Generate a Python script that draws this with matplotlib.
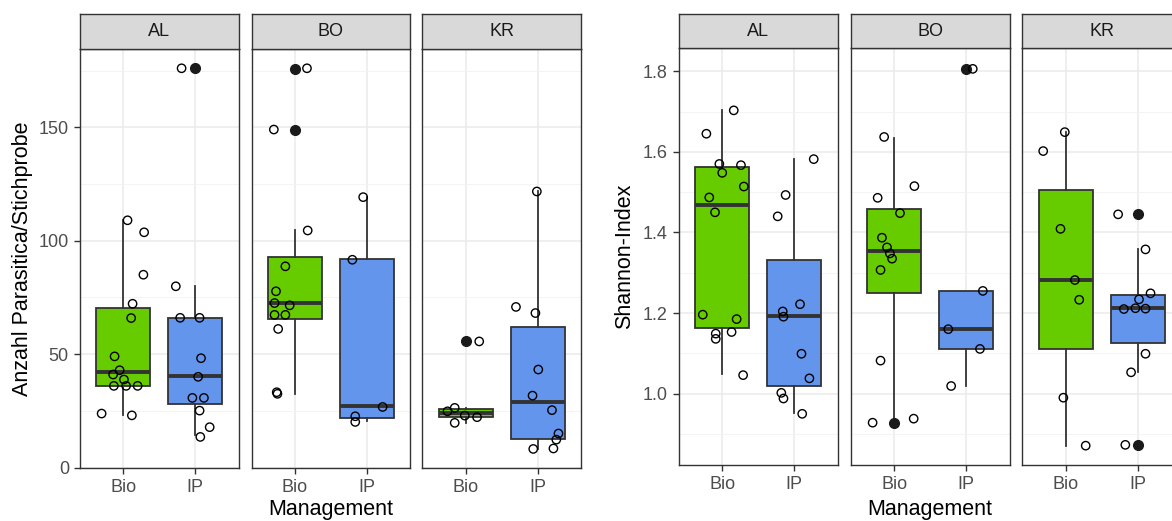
import numpy as np
import matplotlib
matplotlib.use("Agg")
import matplotlib.pyplot as plt

plt.rcParams['font.family'] = ['Liberation Sans', 'DejaVu Sans']

sites = ["AL", "BO", "KR"]
groups = ["Bio", "IP"]
box_colors = ["#66CC00", "#6495ED"]

# --- Anzahl Parasitica / Stichprobe: box stats (AL Bio, AL IP, BO Bio, BO IP, KR Bio, KR IP)
para_med = [42.2, 40.2, 72.5, 27.0, 24.1, 28.8]
para_q1 = [35.8, 28.0, 65.5, 21.9, 22.3, 12.8]
para_q3 = [70.3, 66.0, 92.8, 91.9, 25.6, 62.0]
para_lo = [23.3, 14.5, 32.5, 20.4, 19.7, 8.2]
para_hi = [109.0, 79.9, 104.8, 119.2, 26.3, 121.7]
para_out = [[], [176.0], [175.8, 148.9], [], [55.6], []]

# raw points with jitter offsets
para_al_bio = [23.8, 23.0, 36.0, 36.0, 36.0, 41.0, 42.9, 38.8, 49.0, 65.9, 72.2, 85.0, 103.7, 109.0]
para_al_bio_dx = [-0.30, 0.12, -0.13, 0.04, 0.20, -0.14, -0.05, 0.01, -0.12, 0.11, 0.13, 0.28, 0.29, 0.06]
para_al_ip = [176.0, 79.9, 66.0, 66.0, 48.2, 40.0, 30.7, 30.7, 25.1, 17.8, 13.5]
para_al_ip_dx = [-0.19, -0.27, -0.21, 0.06, 0.08, 0.04, -0.04, 0.12, 0.06, 0.20, 0.07]
para_bo_bio = [176.0, 149.0, 104.5, 88.7, 77.7, 72.5, 71.5, 67.3, 67.3, 61.1, 33.2, 32.5]
para_bo_bio_dx = [0.17, -0.29, 0.18, -0.13, -0.26, -0.28, -0.07, -0.28, -0.13, -0.23, -0.25, -0.24]
para_bo_ip = [119.2, 91.6, 26.7, 22.6, 20.1]
para_bo_ip_dx = [-0.05, -0.20, 0.22, -0.16, -0.16]
para_kr_bio = [55.6, 26.3, 24.8, 22.9, 22.2, 19.7]
para_kr_bio_dx = [0.19, -0.15, -0.25, -0.01, 0.16, -0.15]
para_kr_ip = [121.7, 70.8, 68.1, 43.2, 31.7, 25.3, 15.0, 12.3, 8.4, 8.2]
para_kr_ip_dx = [-0.01, -0.30, -0.03, 0.01, -0.07, 0.20, 0.29, 0.26, 0.22, -0.06]

# --- Shannon-Index
shan_med = [1.469, 1.193, 1.354, 1.160, 1.282, 1.212]
shan_q1 = [1.162, 1.020, 1.251, 1.111, 1.112, 1.126]
shan_q3 = [1.563, 1.331, 1.457, 1.255, 1.506, 1.245]
shan_lo = [1.048, 0.951, 0.930, 1.019, 0.871, 1.054]
shan_hi = [1.703, 1.582, 1.635, 1.255, 1.649, 1.358]
shan_out = [[], [], [0.926], [1.806], [], [1.445, 0.873]]

shan_al_bio = [1.645, 1.703, 1.570, 1.567, 1.548, 1.514, 1.487, 1.450, 1.196, 1.185, 1.149, 1.136, 1.153, 1.046]
shan_al_bio_dx = [-0.22, 0.16, -0.04, 0.26, 0.00, 0.30, -0.18, -0.10, -0.27, 0.20, -0.09, -0.09, 0.13, 0.29]
shan_al_ip = [1.582, 1.493, 1.440, 1.222, 1.204, 1.191, 1.099, 1.038, 1.002, 0.988, 0.950]
shan_al_ip_dx = [0.27, -0.12, -0.23, 0.08, -0.16, -0.15, 0.10, 0.21, -0.18, -0.15, 0.11]
shan_bo_bio = [1.637, 1.515, 1.486, 1.448, 1.387, 1.363, 1.348, 1.335, 1.307, 1.082, 0.928, 0.938]
shan_bo_bio_dx = [-0.14, 0.28, -0.23, 0.08, -0.17, -0.10, -0.06, -0.03, -0.19, -0.19, -0.30, 0.27]
shan_bo_ip = [1.806, 1.255, 1.160, 1.111, 1.019]
shan_bo_ip_dx = [0.09, 0.23, -0.25, 0.19, -0.21]
shan_kr_bio = [1.649, 1.602, 1.409, 1.282, 1.233, 0.990, 0.871]
shan_kr_bio_dx = [-0.01, -0.31, -0.07, 0.13, 0.19, -0.03, 0.28]
shan_kr_ip = [1.445, 1.358, 1.249, 1.234, 1.210, 1.212, 1.211, 1.099, 1.053, 0.873]
shan_kr_ip_dx = [-0.27, 0.11, 0.18, 0.02, -0.19, -0.03, 0.11, 0.11, -0.09, -0.17]

para_pts = [(para_al_bio, para_al_bio_dx), (para_al_ip, para_al_ip_dx),
            (para_bo_bio, para_bo_bio_dx), (para_bo_ip, para_bo_ip_dx),
            (para_kr_bio, para_kr_bio_dx), (para_kr_ip, para_kr_ip_dx)]
shan_pts = [(shan_al_bio, shan_al_bio_dx), (shan_al_ip, shan_al_ip_dx),
            (shan_bo_bio, shan_bo_bio_dx), (shan_bo_ip, shan_bo_ip_dx),
            (shan_kr_bio, shan_kr_bio_dx), (shan_kr_ip, shan_kr_ip_dx)]

W, H = 1172, 521
fig = plt.figure(figsize=(W / 100, H / 100), dpi=100)


def px_axes(x0, y0, x1, y1):
    return fig.add_axes([x0 / W, 1 - y1 / H, (x1 - x0) / W, (y1 - y0) / H])


def draw_chart(lefts, top, bottom, med, q1, q3, lo, hi, out, pts, ylim,
               major, minor, fmt, ylabel, ylab_x):
    pw = 158.5
    for k, site in enumerate(sites):
        x0 = lefts[k]
        ax = px_axes(x0, top, x0 + pw, bottom)
        st = px_axes(x0, 14, x0 + pw, top)
        stats = []
        for g in range(2):
            i = 2 * k + g
            stats.append(dict(med=med[i], q1=q1[i], q3=q3[i], whislo=lo[i],
                              whishi=hi[i], fliers=out[i]))
        bp = ax.bxp(stats, positions=[1, 2], widths=0.75, patch_artist=True,
                    showcaps=False,
                    boxprops=dict(edgecolor="#333333", linewidth=1.3),
                    whiskerprops=dict(color="#333333", linewidth=1.3),
                    medianprops=dict(color="#333333", linewidth=2.8,
                                     solid_capstyle="butt"),
                    flierprops=dict(marker="o", markerfacecolor="#1a1a1a",
                                    markeredgecolor="#1a1a1a", markersize=7),
                    zorder=2)
        for g, patch in enumerate(bp["boxes"]):
            patch.set_facecolor(box_colors[g])
        for g in range(2):
            vals, dx = pts[2 * k + g]
            ax.scatter(np.array(dx) + g + 1, vals, s=36, facecolors="none",
                       edgecolors="black", linewidths=1.0, zorder=3)
        ax.set_xlim(0.4, 2.6)
        ax.set_ylim(*ylim)
        ax.set_xticks([1, 2])
        ax.set_xticklabels(groups)
        ax.set_yticks(major)
        ax.set_yticks(minor, minor=True)
        ax.set_yticklabels([fmt.format(v) for v in major])
        ax.grid(which="major", color="#EBEBEB", linewidth=1.1)
        ax.grid(which="minor", axis="y", color="#F2F2F2", linewidth=0.6)
        ax.set_axisbelow(True)
        for s in ax.spines.values():
            s.set_color("#333333")
            s.set_linewidth(1.0)
        ax.tick_params(which="major", length=4, width=1.0, color="#333333",
                       labelsize=13, labelcolor="#4D4D4D", pad=4)
        ax.tick_params(which="minor", length=0)
        if k > 0:
            ax.tick_params(axis="y", which="major", length=0, labelleft=False)
        st.set_facecolor("#D9D9D9")
        st.set_xticks([])
        st.set_yticks([])
        for s in st.spines.values():
            s.set_color("#333333")
            s.set_linewidth(1.0)
        st.text(0.5, 0.5, site, ha="center", va="center", fontsize=13,
                color="#1A1A1A", transform=st.transAxes)
    cx = (lefts[0] + lefts[2] + pw) / 2
    fig.text(cx / W, 5.5 / H, "Management", ha="center", va="baseline",
             fontsize=15.5, color="black")
    fig.text(ylab_x / W, 1 - ((top + bottom) / 2) / H, ylabel, rotation=90,
             ha="center", va="center", fontsize=15.5, color="black")


draw_chart([80, 251.5, 422.3], 49, 468, para_med, para_q1, para_q3, para_lo,
           para_hi, para_out, para_pts, (-0.2, 184.5), [0, 50, 100, 150],
           [25, 75, 125, 175], "{:.0f}", "Anzahl Parasitica/Stichprobe", 23)

draw_chart([679, 851, 1022.3], 48.3, 465, shan_med, shan_q1, shan_q3, shan_lo,
           shan_hi, shan_out, shan_pts, (0.823, 1.857), [1.0, 1.2, 1.4, 1.6, 1.8],
           [0.9, 1.1, 1.3, 1.5, 1.7], "{:.1f}", "Shannon-Index", 625)

fig.savefig("out.png", dpi=100)
